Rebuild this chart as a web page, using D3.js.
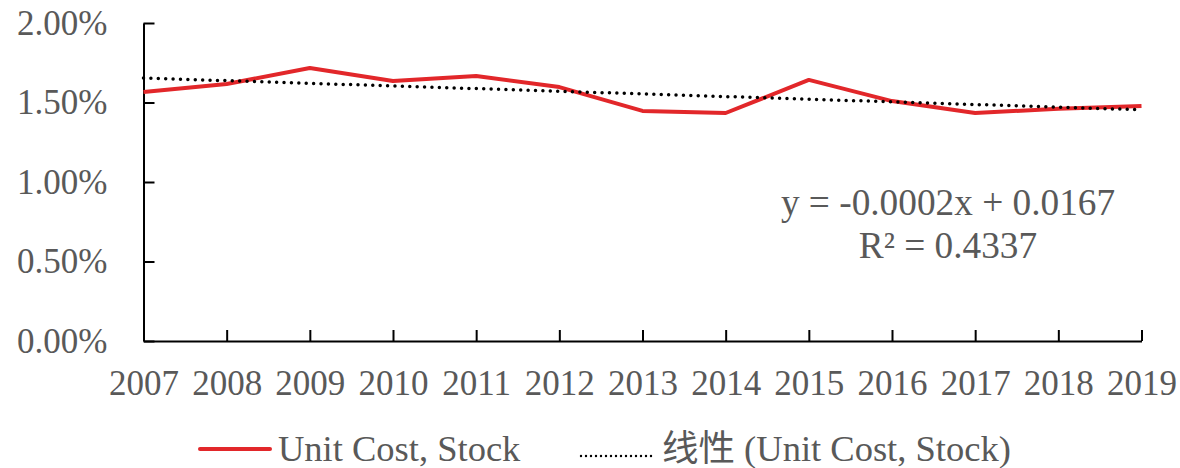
<!DOCTYPE html>
<html>
<head>
<meta charset="utf-8">
<script src="https://cdn.jsdelivr.net/npm/d3@7"></script>
<style>
  body { margin: 0; background: #fff; }
  text { font-family: "Liberation Serif", "Times New Roman", "Noto Sans CJK SC", serif; fill: #595959; }
</style>
</head>
<body>
<div id="chart"></div>
<script>
var years = ["2007","2008","2009","2010","2011","2012","2013","2014","2015","2016","2017","2018","2019"];
var unitCost = [0.01566, 0.01616, 0.01717, 0.01635, 0.01667, 0.01597, 0.01447, 0.01434, 0.01642, 0.01509, 0.01434, 0.01460, 0.01478];
var yTicks = [0, 0.005, 0.01, 0.015, 0.02];
var seriesName = "Unit Cost, Stock";
var trendName = "线性 (Unit Cost, Stock)";

var width = 1180, height = 468;

var svg = d3.select("#chart").append("svg")
  .attr("width", width)
  .attr("height", height);

var xScale = d3.scalePoint().domain(years).range([143.5, 1141.5]);
var yScale = d3.scaleLinear().domain([0, 0.02]).range([341, 23]);

// linear trend (least squares, x = 1..n like Excel)
var n = unitCost.length;
var xs = d3.range(1, n + 1);
var mx = d3.mean(xs), my = d3.mean(unitCost);
var sxy = 0, sxx = 0;
for (var i = 0; i < n; i++) {
  sxy += (xs[i] - mx) * (unitCost[i] - my);
  sxx += (xs[i] - mx) * (xs[i] - mx);
}
var slope = sxy / sxx;
var intercept = my - slope * mx;
var trend = years.map(function(d, i) { return {x: d, y: intercept + slope * (i + 1)}; });

var yAxis = d3.axisLeft(yScale)
  .tickValues(yTicks)
  .tickSize(-11)
  .tickSizeOuter(0)
  .tickPadding(36)
  .tickFormat(d3.format(".2%"));

var xAxis = d3.axisBottom(xScale)
  .tickSize(-11)
  .tickSizeOuter(0)
  .tickPadding(29);

var gy = svg.append("g")
  .attr("transform", "translate(143.5,0)")
  .call(yAxis);

var gx = svg.append("g")
  .attr("transform", "translate(0,341)")
  .call(xAxis);

[gx, gy].forEach(function(g) {
  g.select(".domain").attr("stroke", "#000").attr("stroke-width", 2);
  g.selectAll(".tick line").attr("stroke", "#000").attr("stroke-width", 2);
  g.selectAll(".tick text")
    .attr("font-size", 35)
    .attr("fill", "#595959")
    .style("font-family", "'Liberation Serif', 'Times New Roman', serif");
});

var line = d3.line()
  .x(function(d) { return xScale(d.x); })
  .y(function(d) { return yScale(d.y); });

var data = years.map(function(d, i) { return {x: d, y: unitCost[i]}; });

svg.append("path")
  .attr("d", line(data))
  .attr("stroke", "#e2272a")
  .attr("stroke-width", 4)
  .attr("stroke-linejoin", "round")
  .attr("fill", "none");

svg.append("path")
  .attr("d", line(trend))
  .attr("stroke", "#000")
  .attr("stroke-width", 3.5)
  .attr("stroke-linecap", "round")
  .attr("stroke-dasharray", "0,7.4")
  .attr("fill", "none");

// trendline equation
svg.append("text")
  .attr("x", 948).attr("y", 215)
  .attr("text-anchor", "middle")
  .attr("font-size", 37.3)
  .text("y = -0.0002x + 0.0167");
svg.append("text")
  .attr("x", 948).attr("y", 258)
  .attr("text-anchor", "middle")
  .attr("font-size", 37.3)
  .text("R² = 0.4337");

// legend
var legend = svg.append("g");
legend.append("line")
  .attr("x1", 200).attr("x2", 270).attr("y1", 449).attr("y2", 449)
  .attr("stroke", "#e2272a").attr("stroke-width", 4)
  .attr("stroke-linecap", "round");
legend.append("text")
  .attr("x", 278).attr("y", 461)
  .attr("font-size", 36.5)
  .text(seriesName);
legend.append("line")
  .attr("x1", 581).attr("x2", 653).attr("y1", 456).attr("y2", 456)
  .attr("stroke", "#000").attr("stroke-width", 2.4)
  .attr("stroke-linecap", "round")
  .attr("stroke-dasharray", "0,5");
legend.append("text")
  .attr("x", 662).attr("y", 461)
  .attr("font-size", 36.5)
  .text(trendName);
</script>
</body>
</html>
